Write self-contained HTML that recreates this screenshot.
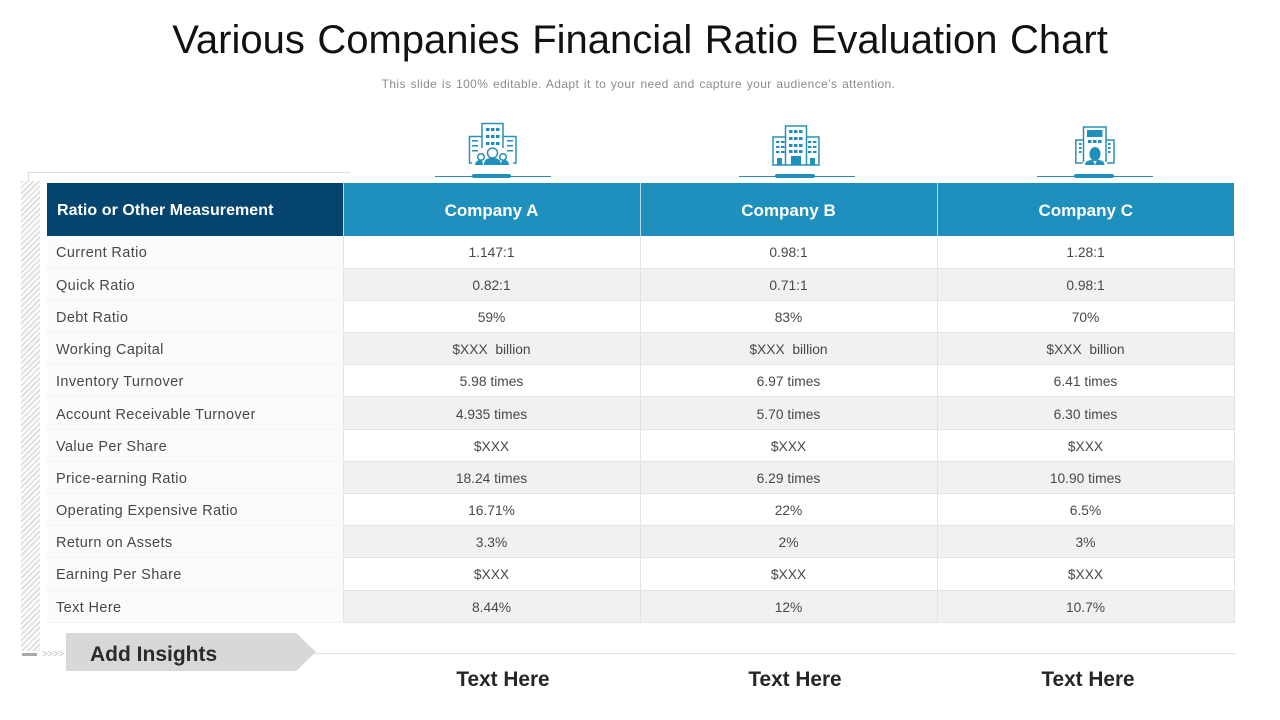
<!DOCTYPE html>
<html lang="en">
<head>
<meta charset="utf-8">
<title>Various Companies Financial Ratio Evaluation Chart</title>
<style>
html,body{margin:0;padding:0;background:#fff}
#slide{position:relative;width:1280px;height:720px;overflow:hidden;background:#fff;font-family:"Liberation Sans",sans-serif}
.abs{position:absolute}
#title{left:0;top:16px;width:1280px;text-align:center;font-size:40px;line-height:48px;color:#111;letter-spacing:0;word-spacing:1.4px;white-space:nowrap}
#subtitle{left:0;top:77px;width:1277px;text-align:center;font-size:12px;line-height:15px;color:#8c8c8c;letter-spacing:.385px;word-spacing:1px;white-space:nowrap}
#hatch{left:21px;top:181px;width:19px;height:470px;background:repeating-linear-gradient(135deg,#e0e0e0 0 2px,#fff 2px 4px)}
#frame-top{left:28px;top:172px;width:322px;height:1px;background:#dcdcdc}
#frame-left{left:28px;top:172px;width:1px;height:10px;background:#dcdcdc}
table{position:absolute;left:47px;top:183px;border-collapse:collapse;table-layout:fixed;width:1187px}
th{height:53px;padding:2px 0 0;font-size:17px;font-weight:bold;color:#fff;background:#1f8fbd;border-left:1px solid #b5d9e8;text-align:center;box-sizing:border-box}
th.first{background:#05446f;text-align:left;padding-left:10px;border-left:0;font-size:16px;letter-spacing:.05px}
td{height:32.2px;padding:2px 0 0;box-sizing:border-box;font-size:13.8px;color:#484848;text-align:center;border:1px solid #e3e3e3;border-top:0;background:#fff}
td.first{text-align:left;padding:3px 0 0 9px;color:#484848;background:#fbfbfb;border:0;border-bottom:1px solid #f3f3f3;font-size:14.5px;letter-spacing:.38px;white-space:nowrap}
tr.alt td:not(.first){background:#f1f1f1}
.rule{height:1px;background:#2b8db5}
.pill{height:4px;border-radius:2px;background:#1f8fbd}
#insight{left:66px;top:633px;width:250px;height:38px;background:#d8d8d8;clip-path:polygon(0 0,230px 0,250px 19px,230px 38px,0 38px)}
#insight-label{left:90px;top:642px;font-size:21px;line-height:26px;font-weight:bold;color:#2a2a2a;white-space:nowrap}
#bottom-rule{left:315px;top:653px;width:920px;height:1px;background:#e2e2e2}
#dash{left:22px;top:653px;width:15px;height:3px;background:#aaa}
#chevrons{left:42px;top:648px;font-size:10px;line-height:13px;color:#bdbdbd;letter-spacing:-.4px}
.foot{top:667px;width:200px;text-align:center;font-size:20.8px;line-height:26px;font-weight:bold;color:#262626;white-space:nowrap}
svg.icon{position:absolute;overflow:visible}
</style>
</head>
<body>
<div id="slide">
<div id="title" class="abs">Various Companies Financial Ratio Evaluation Chart</div>
<div id="subtitle" class="abs">This slide is 100% editable. Adapt it to your need and capture your audience’s attention.</div>

<div id="frame-top" class="abs"></div>
<div id="frame-left" class="abs"></div>
<div id="hatch" class="abs"></div>

<svg class="icon" style="left:468px;top:122px" width="50" height="44" viewBox="0 0 50 44" fill="none" stroke="#2a8fb8" stroke-width="1.5">
  <path d="M14 26V1.500h21V26M14 14.500H1.500V41H4M35 14.500h13V41H45"/>
  <g fill="#1f8fbd" stroke="none">
    <rect x="18" y="6" width="3.500" height="3"/><rect x="23" y="6" width="3.500" height="3"/><rect x="28" y="6" width="3.500" height="3"/>
    <rect x="18" y="13" width="3.500" height="3"/><rect x="23" y="13" width="3.500" height="3"/><rect x="28" y="13" width="3.500" height="3"/>
    <rect x="18" y="20" width="3.500" height="3"/><rect x="23" y="20" width="3.500" height="3"/><rect x="28" y="20" width="3.500" height="3"/>
    <rect x="4" y="18" width="6" height="1.500"/><rect x="4" y="23" width="6" height="1.500"/><rect x="4" y="28" width="6" height="1.500"/>
    <rect x="39" y="18" width="6" height="1.500"/><rect x="39" y="23" width="6" height="1.500"/><rect x="39" y="28" width="6" height="1.500"/>
    <path d="M16 43c0-6 4-7 8.500-7s8.500 1 8.500 7zM7 43c0-3 3-5 4.500-5s3.500 1 3.500 5zM33 43c0-4 2-5 4-5s4 2 4 5z"/>
  </g>
  <circle cx="24.500" cy="31" r="5" fill="#fff"/><circle cx="13" cy="35" r="3.300" fill="#fff"/><circle cx="35" cy="35" r="3.300" fill="#fff"/>
</svg>
<div class="abs rule" style="left:435px;top:176px;width:116px"></div>
<div class="abs pill" style="left:472px;top:174px;width:39px"></div>

<svg class="icon" style="left:772px;top:124px" width="48" height="42" viewBox="0 0 48 42" fill="none" stroke="#2a8fb8" stroke-width="1.5">
  <path d="M13.500 41V2h21v39M13.500 13H1v28h46V13H34.500"/>
  <g fill="#1f8fbd" stroke="none">
    <rect x="17" y="6" width="3.500" height="3"/><rect x="22" y="6" width="3.500" height="3"/><rect x="27" y="6" width="3.500" height="3"/>
    <rect x="17" y="13" width="3.500" height="3"/><rect x="22" y="13" width="3.500" height="3"/><rect x="27" y="13" width="3.500" height="3"/>
    <rect x="17" y="20" width="3.500" height="3"/><rect x="22" y="20" width="3.500" height="3"/><rect x="27" y="20" width="3.500" height="3"/>
    <rect x="17" y="26" width="3.500" height="3"/><rect x="22" y="26" width="3.500" height="3"/><rect x="27" y="26" width="3.500" height="3"/>
    <rect x="4" y="17" width="3.500" height="2"/><rect x="9" y="17" width="3.500" height="2"/><rect x="4" y="22" width="3.500" height="2"/><rect x="9" y="22" width="3.500" height="2"/><rect x="4" y="27" width="3.500" height="2"/><rect x="9" y="27" width="3.500" height="2"/>
    <rect x="36" y="17" width="3.500" height="2"/><rect x="41" y="17" width="3.500" height="2"/><rect x="36" y="22" width="3.500" height="2"/><rect x="41" y="22" width="3.500" height="2"/><rect x="36" y="27" width="3.500" height="2"/><rect x="41" y="27" width="3.500" height="2"/>
    <rect x="19" y="32" width="10" height="9"/><rect x="5" y="34" width="5" height="7"/><rect x="38" y="34" width="5" height="7"/>
  </g>
</svg>
<div class="abs rule" style="left:739px;top:176px;width:116px"></div>
<div class="abs pill" style="left:775px;top:174px;width:40px"></div>

<svg class="icon" style="left:1075px;top:126px" width="40" height="40" viewBox="0 0 40 40" fill="none" stroke="#2a8fb8" stroke-width="1.5">
  <path d="M8.500 36V1h22.500v35M8.500 14H.8v23h7M31 14h8v23h-7"/>
  <g fill="#1f8fbd" stroke="none">
    <rect x="12" y="4" width="15.500" height="7"/>
    <rect x="13" y="14" width="3.500" height="3"/><rect x="18" y="14" width="3.500" height="3"/><rect x="23" y="14" width="3.500" height="3"/>
    <rect x="4" y="17" width="2.500" height="2"/><rect x="4" y="21" width="2.500" height="2"/><rect x="4" y="25" width="2.500" height="2"/>
    <rect x="33" y="17" width="2.500" height="2"/><rect x="33" y="21" width="2.500" height="2"/><rect x="33" y="25" width="2.500" height="2"/>
    <ellipse cx="20" cy="28" rx="5.500" ry="7"/>
    <path d="M10 39c0-4 4-5 8-5l2 5 2-5c4 0 7.500 1 7.500 5z"/>
  </g>
</svg>
<div class="abs rule" style="left:1037px;top:176px;width:116px"></div>
<div class="abs pill" style="left:1074px;top:174px;width:40px"></div>

<table>
<colgroup><col style="width:296px"><col style="width:297px"><col style="width:297px"><col style="width:297px"></colgroup>
<tr><th class="first">Ratio or Other Measurement</th><th>Company A</th><th>Company B</th><th>Company C</th></tr>
<tr><td class="first">Current Ratio</td><td>1.147:1</td><td>0.98:1</td><td>1.28:1</td></tr>
<tr class="alt"><td class="first">Quick Ratio</td><td>0.82:1</td><td>0.71:1</td><td>0.98:1</td></tr>
<tr><td class="first">Debt Ratio</td><td>59%</td><td>83%</td><td>70%</td></tr>
<tr class="alt"><td class="first">Working Capital</td><td>$XXX&nbsp; billion</td><td>$XXX&nbsp; billion</td><td>$XXX&nbsp; billion</td></tr>
<tr><td class="first">Inventory Turnover</td><td>5.98 times</td><td>6.97 times</td><td>6.41 times</td></tr>
<tr class="alt"><td class="first">Account Receivable Turnover</td><td>4.935 times</td><td>5.70 times</td><td>6.30 times</td></tr>
<tr><td class="first">Value Per Share</td><td>$XXX</td><td>$XXX</td><td>$XXX</td></tr>
<tr class="alt"><td class="first">Price-earning Ratio</td><td>18.24 times</td><td>6.29 times</td><td>10.90 times</td></tr>
<tr><td class="first">Operating Expensive Ratio</td><td>16.71%</td><td>22%</td><td>6.5%</td></tr>
<tr class="alt"><td class="first">Return on Assets</td><td>3.3%</td><td>2%</td><td>3%</td></tr>
<tr><td class="first">Earning Per Share</td><td>$XXX</td><td>$XXX</td><td>$XXX</td></tr>
<tr class="alt"><td class="first">Text Here</td><td>8.44%</td><td>12%</td><td>10.7%</td></tr>
</table>

<div id="dash" class="abs"></div>
<div id="chevrons" class="abs">&gt;&gt;&gt;&gt;</div>
<div id="bottom-rule" class="abs"></div>
<div id="insight" class="abs"></div>
<div id="insight-label" class="abs">Add Insights</div>
<div class="abs foot" style="left:403px">Text Here</div>
<div class="abs foot" style="left:695px">Text Here</div>
<div class="abs foot" style="left:988px">Text Here</div>
</div>
</body>
</html>
